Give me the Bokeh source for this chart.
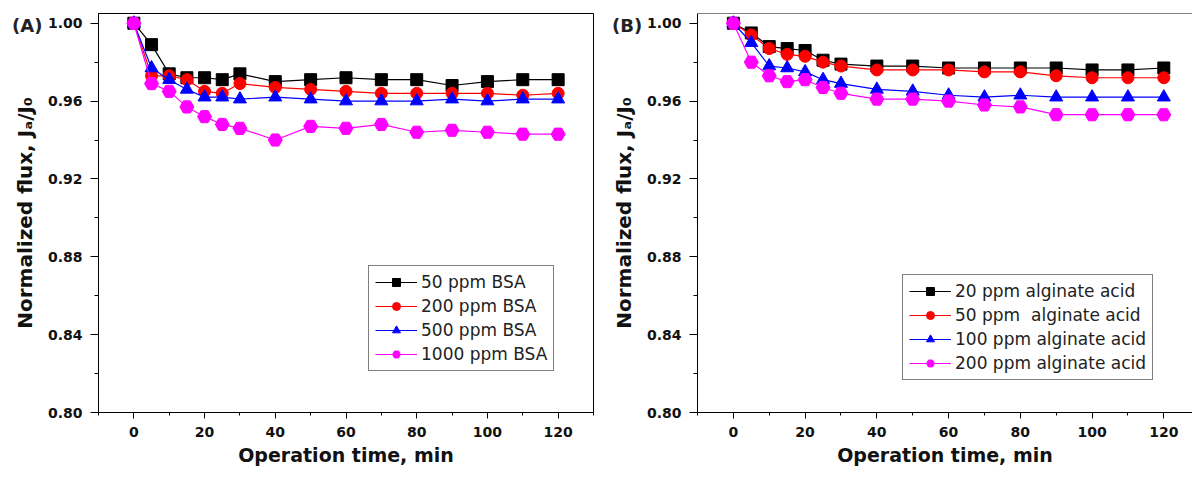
from bokeh.plotting import figure
from bokeh.layouts import row
from bokeh.models import (Range1d, SingleIntervalTicker, PrintfTickFormatter,
                          Legend, Span, Div)
from bokeh.embed import file_html
from bokeh.resources import INLINE

# ---------------- data ----------------
time_min = [0, 5, 10, 15, 20, 25, 30, 40, 50, 60, 70, 80, 90, 100, 110, 120]

bsa_labels = ["50 ppm BSA", "200 ppm BSA", "500 ppm BSA", "1000 ppm BSA"]
bsa_50 = [1.000, 0.989, 0.974, 0.972, 0.972, 0.971, 0.974, 0.970, 0.971, 0.972, 0.971, 0.971, 0.968, 0.970, 0.971, 0.971]
bsa_200 = [1.000, 0.973, 0.973, 0.971, 0.965, 0.964, 0.969, 0.967, 0.966, 0.965, 0.964, 0.964, 0.964, 0.964, 0.963, 0.964]
bsa_500 = [1.000, 0.977, 0.971, 0.966, 0.962, 0.962, 0.961, 0.962, 0.961, 0.960, 0.960, 0.960, 0.961, 0.960, 0.961, 0.961]
bsa_1000 = [1.000, 0.969, 0.965, 0.957, 0.952, 0.948, 0.946, 0.940, 0.947, 0.946, 0.948, 0.944, 0.945, 0.944, 0.943, 0.943]

alg_labels = ["20 ppm alginate acid", "50 ppm  alginate acid", "100 ppm alginate acid", "200 ppm alginate acid"]
alg_20 = [1.000, 0.995, 0.988, 0.987, 0.986, 0.981, 0.979, 0.978, 0.978, 0.977, 0.977, 0.977, 0.977, 0.976, 0.976, 0.977]
alg_50 = [1.000, 0.994, 0.987, 0.984, 0.983, 0.980, 0.978, 0.976, 0.976, 0.976, 0.975, 0.975, 0.973, 0.972, 0.972, 0.972]
alg_100 = [1.000, 0.990, 0.978, 0.977, 0.975, 0.971, 0.969, 0.966, 0.965, 0.963, 0.962, 0.963, 0.962, 0.962, 0.962, 0.962]
alg_200 = [1.000, 0.980, 0.973, 0.970, 0.971, 0.967, 0.964, 0.961, 0.961, 0.960, 0.958, 0.957, 0.953, 0.953, 0.953, 0.953]

panel_tags = ["(A)", "(B)"]
x_label = "Operation time, min"
y_label = "Normalized flux, J\u2090/J\u2080"

# ---------------- styling ----------------
FONT = "DejaVu Sans"
colors = ["#000000", "#FF0000", "#0000FF", "#FF00FF"]
markers = ["square", "circle", "triangle", "hex"]
msizes = [12, 12, 13, 14]
Y_START, Y_END = 0.80, 1.005


def make_panel(labels, series, x_end, border_left, border_right,
               border_top, border_bottom, legend_loc, full_box):
    p = figure(width=596, height=478, output_backend="svg", toolbar_location=None,
               x_range=Range1d(-10, x_end), y_range=Range1d(Y_START, Y_END),
               min_border_left=border_left, min_border_right=border_right,
               min_border_top=border_top, min_border_bottom=border_bottom,
               background_fill_color="white", border_fill_color="white")
    p.xgrid.visible = False
    p.ygrid.visible = False
    if full_box:
        p.outline_line_color = "black"
        p.outline_line_width = 1
    else:
        p.outline_line_color = None
        p.add_layout(Span(location=Y_END, dimension="width",
                          line_color="black", line_width=1))

    xa = p.xaxis[0]
    xa.ticker = SingleIntervalTicker(interval=20, num_minor_ticks=2)
    xa.axis_label = x_label
    xa.axis_label_text_font = FONT
    xa.axis_label_text_font_style = "bold"
    xa.axis_label_text_font_size = "19px"
    xa.axis_label_text_color = "#111111"
    xa.axis_label_standoff = 4
    xa.major_label_text_font = FONT
    xa.major_label_text_font_style = "bold"
    xa.major_label_text_font_size = "14px"
    xa.major_label_text_color = "#111111"
    xa.major_label_standoff = 8
    xa.major_tick_out = 6
    xa.major_tick_in = 0
    xa.minor_tick_out = 3
    xa.minor_tick_in = 0
    xa.axis_line_color = "black"

    ya = p.yaxis[0]
    ya.ticker = SingleIntervalTicker(interval=0.04, num_minor_ticks=2)
    ya.formatter = PrintfTickFormatter(format="%.2f")
    ya.axis_label = y_label
    ya.axis_label_text_font = FONT
    ya.axis_label_text_font_style = "bold"
    ya.axis_label_text_font_size = "20px"
    ya.axis_label_text_color = "#111111"
    ya.axis_label_standoff = 8
    ya.major_label_text_font = FONT
    ya.major_label_text_font_style = "bold"
    ya.major_label_text_font_size = "14px"
    ya.major_label_text_color = "#111111"
    ya.major_label_standoff = 8
    ya.major_tick_out = 8
    ya.major_tick_in = 0
    ya.minor_tick_out = 4
    ya.minor_tick_in = 0
    ya.axis_line_color = "black"

    items = []
    for lab, ys, c, m, s in zip(labels, series, colors, markers, msizes):
        r1 = p.line(time_min, ys, line_color=c, line_width=1.2)
        r2 = p.scatter(time_min, ys, marker=m, size=s, fill_color=c, line_color=c)
        items.append((lab, [r1, r2]))

    legend = Legend(items=items, location=legend_loc,
                    label_text_font=FONT, label_text_font_size="17px",
                    label_text_color="#222222",
                    glyph_width=42, glyph_height=20, label_height=20,
                    label_standoff=4, spacing=4, padding=6, margin=0,
                    border_line_color="black", border_line_width=1,
                    background_fill_color="white", background_fill_alpha=1)
    p.add_layout(legend, "center")
    return p


def make_tag(text, left):
    return Div(text=text, width=44, height=24, margin=0,
               styles={"position": "absolute", "left": f"{left}px", "top": "15px",
                       "z-index": "10", "font-family": FONT, "font-weight": "bold",
                       "font-size": "18px", "color": "#222222", "line-height": "22px"},
               stylesheets=[":host { font-size: 18px; font-weight: bold; } "
                            "div { font-size: 18px; font-family: 'DejaVu Sans'; "
                            "font-weight: bold; color: #222222; line-height: 22px; }"])


p1 = make_panel(bsa_labels, [bsa_50, bsa_200, bsa_500, bsa_1000],
                130, 98, 3, 13, 65, (270, 41), True)
p2 = make_panel(alg_labels, [alg_20, alg_50, alg_100, alg_200],
                128, 101, 0, 12, 66, (205, 32), False)

layout = row(p1, p2, make_tag(panel_tags[0], 12), make_tag(panel_tags[1], 612), spacing=0)
open("out.html", "w").write(file_html(layout, INLINE))
